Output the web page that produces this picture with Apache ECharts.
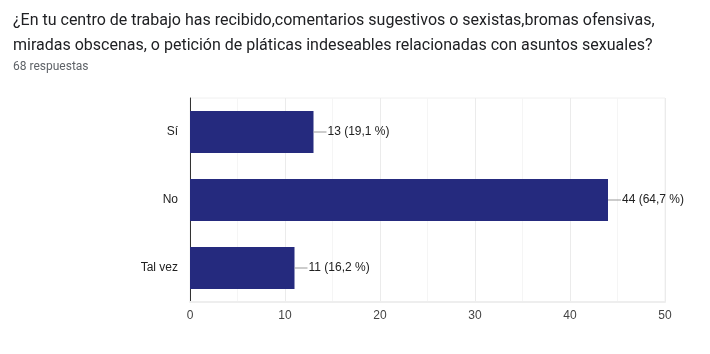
<!DOCTYPE html>
<html>
<head>
<meta charset="utf-8">
<script src="https://cdn.jsdelivr.net/npm/echarts@6/dist/echarts.min.js"></script>
<style>
  html, body { margin: 0; padding: 0; background: #fff; }
  #chart { width: 710px; height: 354px; }
</style>
</head>
<body>
<div id="chart"></div>
<script>
const categories = ['Sí', 'No', 'Tal vez']
const counts = [13, 44, 11]
const percents = ['19,1', '64,7', '16,2']
const xTicks = [0, 10, 20, 30, 40, 50]

const myChart = echarts.init(document.getElementById('chart'))
const option = {
  animation: false,
  title: {
    left: 8,
    top: 3,
    text: '¿En tu centro de trabajo has recibido,comentarios sugestivos o sexistas,bromas ofensivas,\nmiradas obscenas, o petición de pláticas indeseables relacionadas con asuntos sexuales?',
    textStyle: {
      fontFamily: 'Roboto',
      fontSize: 16,
      fontWeight: 'normal',
      color: '#202124',
      lineHeight: 25
    },
    subtext: '68 respuestas',
    subtextStyle: {
      fontFamily: 'Roboto',
      fontSize: 12,
      color: '#5f6368',
      lineHeight: 14
    },
    itemGap: 2
  },
  grid: {
    left: 190,
    right: 45,
    top: 98,
    bottom: 52,
    show: true,
    borderColor: '#f0f0f0',
    borderWidth: 1
  },
  xAxis: {
    type: 'value',
    min: xTicks[0],
    max: xTicks[xTicks.length - 1],
    interval: 10,
    axisLine: { show: true, lineStyle: { color: '#eeeeee', width: 2 } },
    axisTick: { show: false },
    axisLabel: {
      color: '#444',
      fontFamily: 'Liberation Sans',
      fontSize: 12,
      margin: 8
    },
    splitLine: { lineStyle: { color: '#ebebeb' } },
    minorTick: { show: false, splitNumber: 2 },
    minorSplitLine: { show: true, lineStyle: { color: '#f5f5f5' } }
  },
  yAxis: {
    type: 'category',
    inverse: true,
    data: categories,
    axisLine: { show: true, lineStyle: { color: '#333', width: 1 } },
    axisTick: { show: false },
    axisLabel: {
      color: '#222',
      fontFamily: 'Liberation Sans',
      fontSize: 12,
      margin: 12
    },
    splitLine: { show: false }
  },
  series: [{
    type: 'bar',
    data: counts,
    barWidth: 42,
    itemStyle: { color: '#252a7e' },
    label: {
      show: true,
      position: 'right',
      distance: 0,
      formatter: (p) => `{l|}{t|${p.value} (${percents[p.dataIndex]} %)}`,
      rich: {
        l: { width: 13, height: 1, backgroundColor: '#999' },
        t: { color: '#222', fontFamily: 'Liberation Sans', fontSize: 12, padding: [0, 0, 0, 1] }
      }
    }
  }]
}
myChart.setOption(option)
</script>
</body>
</html>
